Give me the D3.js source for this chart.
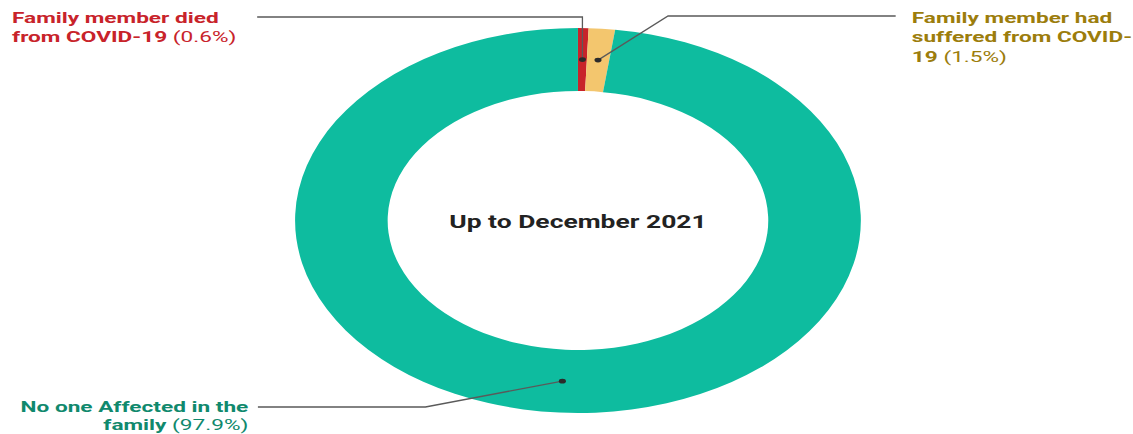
<!DOCTYPE html>
<html>
<head>
<meta charset="utf-8">
<script src="https://cdn.jsdelivr.net/npm/d3@7"></script>
<style>
  html, body { margin: 0; padding: 0; background: #fff; }
  svg { display: block; }
  text { font-family: Roboto, "Noto Sans", sans-serif; }
</style>
</head>
<body>
<svg id="chart"></svg>
<script>
// Share of families affected by COVID-19, up to December 2021
const categories = [
  "Family member died from COVID-19",
  "Family member had suffered from COVID-19",
  "No one Affected in the family"
];
const values = [0.6, 1.5, 97.9];
const sliceColors = ["#c8232a", "#f3c66e", "#0ebc9f"];
const labelColors = ["#c8232a", "#9c7d0c", "#10896d"];
const centerTitle = "Up to December 2021";

// how each label is broken over lines (text split from the category name)
const labelBreaks = [
  ["Family member died", "from COVID-19"],
  ["Family member had", "suffered from COVID-", "19"],
  ["No one Affected in the", "family"]
];

const W = 1133, H = 434;
const VW = 771;            // drawing space is stretched horizontally to fill the page
const cx = 393.3, cy = 220.5;
const rOuter = 192.5, rInner = 129.5, rMid = (rOuter + rInner) / 2;

const svg = d3.select("#chart")
  .attr("width", W).attr("height", H)
  .attr("viewBox", `0 0 ${VW} ${H}`)
  .attr("preserveAspectRatio", "none");

const data = categories.map((c, i) => ({ name: c, value: values[i], i }));

const pie = d3.pie().value(d => d.value).sort(null);
const arcs = pie(data);
const arc = d3.arc().innerRadius(rInner).outerRadius(rOuter);
const mid = d3.arc().innerRadius(rMid).outerRadius(rMid);

const g = svg.append("g").attr("transform", `translate(${cx},${cy})`);

g.selectAll("path.slice")
  .data(arcs)
  .join("path")
  .attr("class", "slice")
  .attr("d", arc)
  .attr("fill", d => sliceColors[d.data.i]);

// leader lines: from slice centroid to an elbow, then a horizontal run
const leader = [
  { elbowY: 17 - cy, endX: 175 - cx, vertical: true },
  { elbowX: 454.6 - cx, elbowY: 16 - cy, endX: 609.5 - cx },
  { elbowX: 289.5 - cx, elbowY: 407 - cy, endX: 175.5 - cx }
];

arcs.forEach((a, k) => {
  const [px, py] = mid.centroid(a);
  const L = leader[k];
  const ex = L.vertical ? px : L.elbowX;
  const pts = [[px, py], [ex, L.elbowY], [L.endX, L.elbowY]];
  g.append("path")
    .attr("d", d3.line()(pts))
    .attr("fill", "none")
    .attr("stroke", "#5a5a5a")
    .attr("stroke-width", 1.3)
    .attr("vector-effect", "non-scaling-stroke");
  g.append("circle")
    .attr("cx", px).attr("cy", py).attr("r", 2.4)
    .attr("fill", "#2b2b2b");
});

// labels
const fmt = v => `(${d3.format(".1f")(v)}%)`;
const labelPos = [
  { x: 8.2, y: 23, anchor: "start", lh: 19.5 },
  { x: 620.5, y: 23, anchor: "start", lh: 19.5 },
  { x: 169, y: 412, anchor: "end", lh: 18 }
];

data.forEach((d, k) => {
  const P = labelPos[k];
  const t = svg.append("text")
    .attr("text-anchor", P.anchor)
    .attr("font-size", 15.4)
    .attr("fill", labelColors[k]);
  const lines = labelBreaks[k];
  lines.forEach((ln, j) => {
    t.append("tspan")
      .attr("x", P.x)
      .attr("y", P.y + j * P.lh)
      .attr("font-weight", 700)
      .text(ln);
    if (j === lines.length - 1) {
      t.append("tspan")
        .attr("font-weight", 400)
        .text(" " + fmt(d.value));
    }
  });
});

svg.append("text")
  .attr("x", cx).attr("y", 228)
  .attr("text-anchor", "middle")
  .attr("font-size", 18)
  .attr("font-weight", 700)
  .attr("fill", "#222")
  .text(centerTitle);
</script>
</body>
</html>
